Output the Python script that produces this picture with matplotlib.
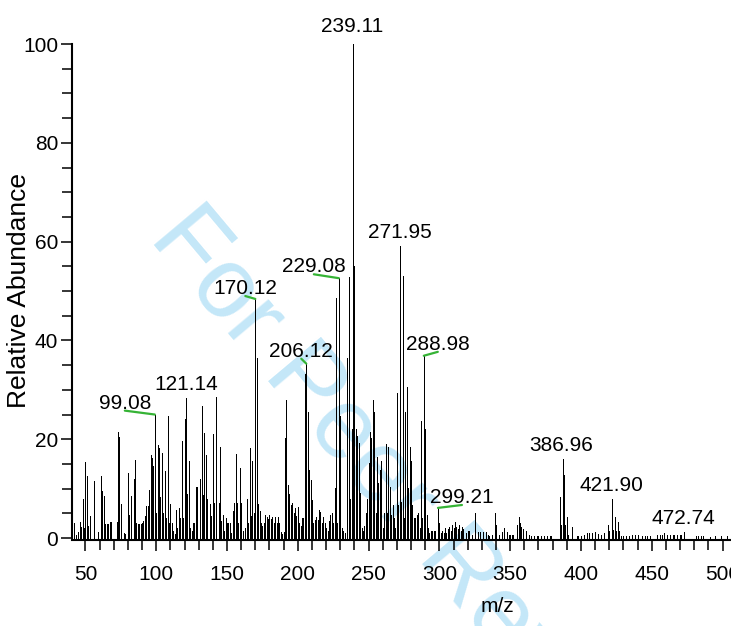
import matplotlib
matplotlib.use("Agg")
import matplotlib.pyplot as plt
from matplotlib import font_manager
from matplotlib.ticker import MultipleLocator, FixedLocator

# spectrum (m/z, relative abundance)
mz = [42, 43, 45, 46, 47, 48, 49, 50, 51, 52, 53, 56, 59, 61, 62, 63, 64, 65, 66, 67,
      68, 72, 73, 74, 75, 77, 78, 80, 81, 82, 84, 85, 86, 87, 88, 89, 90, 91, 92, 93,
      94, 95, 96, 97, 98, 99, 100, 101, 102, 103, 104, 105, 106, 107, 108, 109, 110, 111, 112, 113,
      114, 115, 116, 117, 118, 119, 120, 121, 122, 123, 124, 125, 126, 127, 128, 129, 131, 132, 133, 134,
      135, 136, 138, 139, 140, 141, 142, 144, 145, 146, 147, 148, 149, 150, 151, 152, 153, 154, 155, 156,
      157, 158, 159, 160, 161, 163, 164, 165, 166, 167, 168, 169, 170, 171, 172, 173, 174, 175, 176, 177,
      178, 179, 180, 181, 182, 183, 184, 185, 186, 187, 188, 189, 190, 191, 192, 193, 194, 195, 196, 197,
      198, 199, 200, 201, 202, 203, 204, 205, 206, 207, 208, 209, 210, 211, 212, 213, 214, 215, 216, 217,
      218, 219, 220, 221, 222, 223, 224, 225, 226, 227, 228, 229, 230, 231, 232, 233, 235, 236, 237, 238,
      239, 240, 241, 242, 243, 244, 245, 246, 247, 248, 249, 250, 251, 252, 253, 254, 255, 256, 257, 258,
      259, 260, 261, 262, 263, 264, 265, 266, 267, 268, 269, 270, 271, 272, 273, 274, 275, 276, 277, 278,
      279, 280, 281, 282, 283, 284, 285, 286, 287, 288, 289, 290, 291, 292, 293, 294, 295, 296, 297, 299,
      300, 301, 302, 303, 304, 305, 306, 307, 308, 309, 310, 311, 312, 313, 314, 315, 316, 317, 319, 320,
      321, 323, 325, 327, 329, 331, 333, 334, 335, 337, 339, 340, 342, 344, 346, 348, 349, 350, 351, 352,
      355, 356, 357, 358, 359, 361, 363, 365, 367, 369, 370, 372, 374, 376, 378, 379, 385, 386, 387, 388,
      389, 390, 391, 394, 397, 398, 400, 402, 404, 406, 408, 410, 412, 414, 416, 419, 420, 422, 423, 424,
      425, 426, 427, 428, 430, 432, 434, 436, 438, 440, 443, 445, 447, 449, 454, 456, 457, 459, 461, 463,
      465, 466, 468, 470, 471, 473, 481, 483, 485, 486, 491, 495, 499, 503]
abundance = [3.0, 0.6, 1.2, 3.3, 2.2, 7.8, 2.0, 15.4, 12.5, 2.4, 4.5, 11.6, 1.2, 12.6, 9.6, 8.6, 2.8, 2.8, 2.8, 3.3,
             3.3, 3.3, 21.5, 20.5, 6.8, 1.0, 0.8, 13.2, 4.7, 8.6, 12.0, 15.8, 3.0, 2.8, 2.8, 2.8, 3.0, 3.4, 4.4, 6.4,
             6.4, 9.8, 16.9, 16.2, 14.5, 25.0, 5.0, 18.9, 18.2, 8.3, 17.2, 5.0, 13.6, 4.0, 24.8, 3.0, 6.9, 3.0, 1.5, 0.8,
             5.7, 2.0, 6.0, 4.0, 19.7, 4.0, 24.1, 28.3, 8.9, 15.5, 2.0, 1.5, 3.0, 3.0, 10.3, 10.3, 12.0, 26.8, 8.7, 21.2,
             16.8, 7.8, 6.8, 4.4, 21.1, 7.1, 28.5, 7.1, 18.5, 3.5, 4.7, 1.5, 4.0, 3.0, 3.0, 3.0, 1.0, 5.5, 7.0, 17.0,
             7.1, 3.0, 14.2, 7.0, 1.5, 2.0, 8.0, 3.0, 18.3, 4.4, 15.6, 5.0, 48.4, 36.4, 6.9, 5.5, 3.0, 2.5, 3.0, 4.6,
             4.2, 3.9, 4.6, 3.9, 4.3, 3.0, 4.3, 3.0, 4.3, 3.0, 1.3, 0.8, 1.3, 20.2, 27.9, 10.7, 9.0, 6.7, 7.0, 5.0,
             6.0, 4.5, 6.2, 3.0, 2.5, 4.0, 4.0, 33.3, 35.3, 25.5, 13.7, 11.7, 7.6, 3.0, 3.7, 4.3, 3.7, 5.7, 5.3, 3.0,
             4.3, 3.0, 2.0, 1.5, 3.5, 4.7, 5.0, 3.0, 10.1, 48.5, 3.0, 52.6, 24.8, 2.0, 1.5, 1.0, 36.4, 52.9, 8.0, 22.0,
             100.0, 55.0, 22.0, 20.6, 19.3, 9.2, 2.0, 1.5, 2.5, 5.0, 8.0, 15.1, 21.5, 20.2, 28.0, 25.6, 5.0, 16.5, 11.1, 13.8,
             15.5, 2.0, 5.0, 19.0, 5.0, 18.5, 10.4, 4.6, 6.6, 4.0, 2.0, 29.4, 6.6, 59.1, 7.3, 53.1, 4.0, 25.6, 30.6, 10.1,
             18.5, 15.5, 6.6, 4.0, 4.0, 4.6, 5.0, 2.0, 23.6, 4.0, 36.9, 22.0, 4.6, 2.0, 1.0, 1.5, 1.5, 1.5, 1.5, 6.1,
             3.0, 1.0, 1.5, 1.0, 2.0, 1.0, 1.8, 2.3, 1.5, 2.6, 2.0, 3.3, 2.3, 1.8, 2.6, 1.5, 2.3, 1.8, 1.0, 1.5,
             1.5, 0.7, 5.1, 1.3, 1.3, 1.3, 1.3, 0.7, 0.5, 0.7, 5.1, 2.7, 0.7, 1.3, 2.0, 1.3, 0.7, 0.7, 0.7, 0.7,
             2.7, 4.3, 3.0, 2.3, 1.9, 1.5, 0.7, 0.5, 0.5, 0.5, 0.5, 0.5, 0.5, 0.5, 0.5, 0.5, 8.4, 2.7, 15.9, 12.8,
             2.7, 4.3, 0.7, 2.3, 0.5, 0.5, 0.5, 0.7, 1.1, 1.0, 1.0, 1.3, 0.8, 0.6, 1.0, 2.7, 1.4, 7.8, 1.7, 4.3,
             1.4, 3.2, 1.5, 0.4, 0.5, 0.5, 0.5, 0.7, 0.7, 0.7, 0.4, 0.4, 0.4, 0.5, 0.7, 0.7, 0.7, 1.1, 0.7, 0.7,
             0.7, 0.7, 0.7, 0.7, 0.7, 1.2, 0.5, 0.5, 0.5, 0.5, 0.2, 0.5, 0.5, 0.5]

# labelled peaks
label_mz = [99.08, 121.14, 170.12, 206.12, 229.08, 239.11, 271.95, 288.98, 299.21, 386.96, 421.90, 472.74]
label_text = ["99.08", "121.14", "170.12", "206.12", "229.08", "239.11",
              "271.95", "288.98", "299.21", "386.96", "421.90", "472.74"]
label_green = [True, False, True, True, True, False, False, True, True, False, False, False]
# label offsets from peak top, in pixels (dx, dy up to baseline)
label_offsets = [(-30, 6), (0, 8), (-10, 5), (-5, 7), (-25, 6), (-1, 12),
                 (0, 8), (14, 6), (24, 5), (-1, 8), (-1, 8), (-1, 8)]

names = {f.name for f in font_manager.fontManager.ttflist}
narrow = "Liberation Sans Narrow" if "Liberation Sans Narrow" in names else "Liberation Sans"
fs = 17 if narrow == "Liberation Sans Narrow" else 15

W, H = 731, 626
fig = plt.figure(figsize=(W / 100, H / 100), dpi=100)
ax = fig.add_axes([72 / W, 86 / H, 659 / W, 525.6 / H])
ax.patch.set_alpha(0)

# watermark
fig.text(148 / W, 1 - 238 / H, "For Peer Review", fontsize=72, color="#c4e7f8",
         family="Liberation Sans", rotation=-50, rotation_mode="anchor",
         ha="left", va="baseline", zorder=-1)

ax.vlines(mz, 0, abundance, colors="black", linewidth=0.7, antialiased=False)

peak_lookup = dict(zip(mz, abundance))
px2pt = 0.72
for m, t, g, (dx, dy) in zip(label_mz, label_text, label_green, label_offsets):
    h = peak_lookup[round(m)]
    arrow = None
    if g:
        arrow = dict(arrowstyle="-", color="#35b335", lw=1.6, shrinkA=0, shrinkB=0,
                     patchA=None, relpos=(0.5, 0.1))
    ax.annotate(t, xy=(round(m), h), xytext=(dx * px2pt, dy * px2pt),
                textcoords="offset points", ha="center", va="baseline",
                fontsize=fs, family=narrow, arrowprops=arrow)

ax.set_xlim(40.5, 506)
ax.set_ylim(-0.4, 106)
ax.xaxis.set_major_locator(MultipleLocator(50))
ax.xaxis.set_minor_locator(MultipleLocator(10))
ax.yaxis.set_major_locator(FixedLocator(range(0, 101, 20)))
ax.yaxis.set_minor_locator(FixedLocator(range(0, 101, 5)))
ax.tick_params(axis="both", which="both", direction="out", width=1.1, colors="black")
ax.tick_params(axis="x", which="major", length=8, pad=10)
ax.tick_params(axis="x", which="minor", length=7)
ax.tick_params(axis="y", which="major", length=8, pad=2)
ax.tick_params(axis="y", which="minor", length=7)
for lab in ax.get_xticklabels() + ax.get_yticklabels():
    lab.set_family(narrow)
    lab.set_fontsize(fs)

for s in ["top", "right"]:
    ax.spines[s].set_visible(False)
ax.spines["left"].set_bounds(0, 100)
ax.spines["left"].set_linewidth(1.5)
ax.spines["bottom"].set_linewidth(1.5)

ax.text((497 - 72) / 659, -(607 - 540) / 525.6, "m/z", transform=ax.transAxes,
        ha="center", va="center", fontsize=fs, family=narrow)
ax.text((19 - 72) / 659, (540 - 290) / 525.6, "Relative Abundance", transform=ax.transAxes,
        ha="center", va="center", rotation=90, fontsize=19, family="Liberation Sans")

fig.savefig("out.png", dpi=100)
